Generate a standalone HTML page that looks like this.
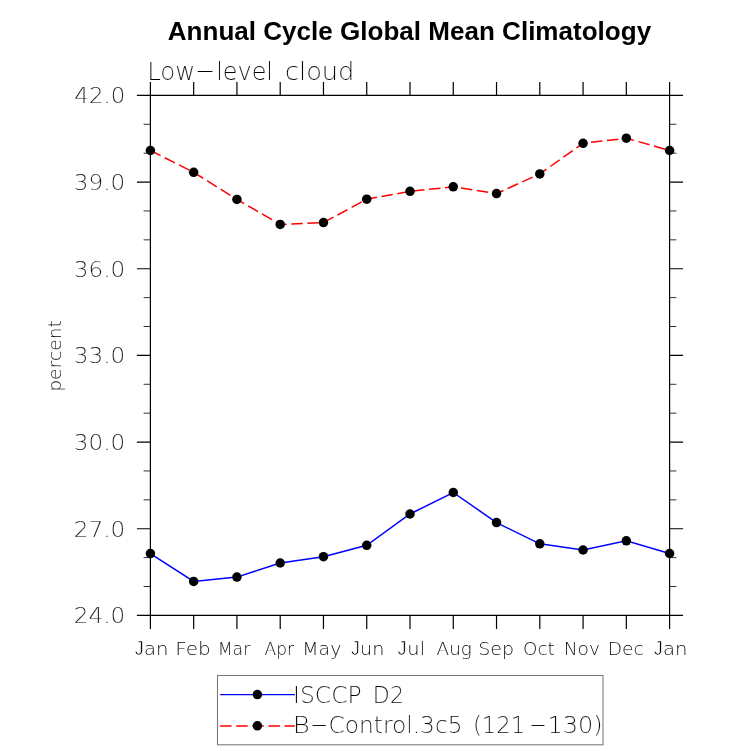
<!DOCTYPE html>
<html lang="en"><head><meta charset="utf-8"><title>Annual Cycle Global Mean Climatology</title>
<style>
html,body{margin:0;padding:0;background:#fff;}
body{width:733px;height:751px;overflow:hidden;}
svg{display:block;}
.h{font-family:"DejaVu Sans Light","DejaVu Sans","Liberation Sans",sans-serif;font-weight:200;fill:#000;stroke:#fff;}
.j{font-family:"Liberation Sans",Arial,Helvetica,sans-serif;font-weight:400;stroke-width:0.6px;}
.t{font-family:"Liberation Sans",Arial,Helvetica,sans-serif;font-weight:bold;fill:#000;}
</style></head><body>
<svg width="733" height="751" viewBox="0 0 733 751">
<rect x="0" y="0" width="733" height="751" fill="#fff"/>
<g stroke="#000" stroke-width="1.2" fill="none" stroke-linecap="butt">
<path d="M136.9 95.4H683.1M136.9 615.4H683.1M150.4 81.9V628.9M669.6 81.9V628.9"/>
<path d="M193.67 81.9V95.4M193.67 615.4V628.9M236.93 81.9V95.4M236.93 615.4V628.9M280.20 81.9V95.4M280.20 615.4V628.9M323.47 81.9V95.4M323.47 615.4V628.9M366.73 81.9V95.4M366.73 615.4V628.9M410.00 81.9V95.4M410.00 615.4V628.9M453.27 81.9V95.4M453.27 615.4V628.9M496.53 81.9V95.4M496.53 615.4V628.9M539.80 81.9V95.4M539.80 615.4V628.9M583.07 81.9V95.4M583.07 615.4V628.9M626.33 81.9V95.4M626.33 615.4V628.9"/>
<path d="M136.9 182.07H150.4M669.6 182.07H683.1M136.9 268.73H150.4M669.6 268.73H683.1M136.9 355.40H150.4M669.6 355.40H683.1M136.9 442.07H150.4M669.6 442.07H683.1M136.9 528.73H150.4M669.6 528.73H683.1"/>
</g>
<path d="M143.6 124.29H150.4M669.6 124.29H676.4M143.6 153.18H150.4M669.6 153.18H676.4M143.6 210.96H150.4M669.6 210.96H676.4M143.6 239.84H150.4M669.6 239.84H676.4M143.6 297.62H150.4M669.6 297.62H676.4M143.6 326.51H150.4M669.6 326.51H676.4M143.6 384.29H150.4M669.6 384.29H676.4M143.6 413.18H150.4M669.6 413.18H676.4M143.6 470.96H150.4M669.6 470.96H676.4M143.6 499.84H150.4M669.6 499.84H676.4M143.6 557.62H150.4M669.6 557.62H676.4M143.6 586.51H150.4M669.6 586.51H676.4" stroke="#000" stroke-width="0.8" fill="none"/>
<polyline points="150.40,150.5 193.67,172.3 236.93,199.4 280.20,224.45 323.47,222.6 366.73,199.2 410.00,191.35 453.27,186.8 496.53,193.6 539.80,173.9 583.07,143.3 626.33,138.2 669.60,150.5" fill="none" stroke="#f00" stroke-width="1.5" stroke-dasharray="11.47 4.59"/>
<polyline points="150.40,553.6 193.67,581.4 236.93,577.1 280.20,563.0 323.47,556.7 366.73,545.3 410.00,514.0 453.27,492.5 496.53,522.6 539.80,543.85 583.07,550.0 626.33,540.8 669.60,553.5" fill="none" stroke="#00f" stroke-width="1.5"/>
<g fill="#000">
<circle cx="150.40" cy="150.5" r="4.75"/>
<circle cx="193.67" cy="172.3" r="4.75"/>
<circle cx="236.93" cy="199.4" r="4.75"/>
<circle cx="280.20" cy="224.45" r="4.75"/>
<circle cx="323.47" cy="222.6" r="4.75"/>
<circle cx="366.73" cy="199.2" r="4.75"/>
<circle cx="410.00" cy="191.35" r="4.75"/>
<circle cx="453.27" cy="186.8" r="4.75"/>
<circle cx="496.53" cy="193.6" r="4.75"/>
<circle cx="539.80" cy="173.9" r="4.75"/>
<circle cx="583.07" cy="143.3" r="4.75"/>
<circle cx="626.33" cy="138.2" r="4.75"/>
<circle cx="669.60" cy="150.5" r="4.75"/>
<circle cx="150.40" cy="553.6" r="4.75"/>
<circle cx="193.67" cy="581.4" r="4.75"/>
<circle cx="236.93" cy="577.1" r="4.75"/>
<circle cx="280.20" cy="563.0" r="4.75"/>
<circle cx="323.47" cy="556.7" r="4.75"/>
<circle cx="366.73" cy="545.3" r="4.75"/>
<circle cx="410.00" cy="514.0" r="4.75"/>
<circle cx="453.27" cy="492.5" r="4.75"/>
<circle cx="496.53" cy="522.6" r="4.75"/>
<circle cx="539.80" cy="543.85" r="4.75"/>
<circle cx="583.07" cy="550.0" r="4.75"/>
<circle cx="626.33" cy="540.8" r="4.75"/>
<circle cx="669.60" cy="553.5" r="4.75"/>
</g>
<rect x="217.5" y="675.5" width="385.5" height="69.3" fill="#fff" stroke="#787878" stroke-width="1.05"/>
<path d="M220.2 694.65H294.9" stroke="#00f" stroke-width="1.4"/>
<path d="M220.1 725.95H294.9" stroke="#f00" stroke-width="1.5" stroke-dasharray="11.5 4.6"/>
<circle cx="257.4" cy="694.6" r="4.75"/><circle cx="257.4" cy="725.8" r="4.75"/>
<text class="t" font-size="26.5"><tspan x="167.76" y="39.70" textLength="483.40" lengthAdjust="spacingAndGlyphs">Annual Cycle Global Mean Climatology</tspan></text>
<text class="h" font-size="25" stroke-width="0.15"><tspan x="147.17" y="79.90" textLength="48.12" lengthAdjust="spacingAndGlyphs">Low</tspan><tspan x="194.73" y="78.00" textLength="20.70" lengthAdjust="spacingAndGlyphs">-</tspan><tspan x="216.17" y="79.90" textLength="56.85" lengthAdjust="spacingAndGlyphs">level</tspan> <tspan x="284.90" y="79.90" textLength="69.53" lengthAdjust="spacingAndGlyphs">cloud</tspan></text>
<text class="h" font-size="21.7" stroke-width="0.15"><tspan x="74.35" y="103.30" textLength="50.91" lengthAdjust="spacingAndGlyphs">42.0</tspan></text>
<text class="h" font-size="21.7" stroke-width="0.15"><tspan x="73.80" y="189.97" textLength="51.48" lengthAdjust="spacingAndGlyphs">39.0</tspan></text>
<text class="h" font-size="21.7" stroke-width="0.15"><tspan x="73.80" y="276.63" textLength="51.48" lengthAdjust="spacingAndGlyphs">36.0</tspan></text>
<text class="h" font-size="21.7" stroke-width="0.15"><tspan x="73.80" y="363.30" textLength="51.48" lengthAdjust="spacingAndGlyphs">33.0</tspan></text>
<text class="h" font-size="21.7" stroke-width="0.15"><tspan x="73.80" y="449.97" textLength="51.48" lengthAdjust="spacingAndGlyphs">30.0</tspan></text>
<text class="h" font-size="21.7" stroke-width="0.15"><tspan x="73.80" y="536.63" textLength="51.48" lengthAdjust="spacingAndGlyphs">27.0</tspan></text>
<text class="h" font-size="21.7" stroke-width="0.15"><tspan x="73.80" y="623.30" textLength="51.48" lengthAdjust="spacingAndGlyphs">24.0</tspan></text>
<text class="h" font-size="18.4" stroke-width="0.05"><tspan class="j" font-size="19.6" x="134.77" y="654.90" textLength="8.94" lengthAdjust="spacingAndGlyphs">J</tspan><tspan x="144.00" y="654.90" textLength="24.47" lengthAdjust="spacingAndGlyphs">an</tspan></text>
<text class="h" font-size="18.4" stroke-width="0.05"><tspan x="175.24" y="654.90" textLength="35.56" lengthAdjust="spacingAndGlyphs">Feb</tspan></text>
<text class="h" font-size="18.4" stroke-width="0.05"><tspan x="217.67" y="654.90" textLength="32.68" lengthAdjust="spacingAndGlyphs">Mar</tspan></text>
<text class="h" font-size="18.4" stroke-width="0.05"><tspan x="264.54" y="654.90" textLength="29.54" lengthAdjust="spacingAndGlyphs">Apr</tspan></text>
<text class="h" font-size="18.4" stroke-width="0.05"><tspan x="302.32" y="654.90" textLength="39.04" lengthAdjust="spacingAndGlyphs">May</tspan></text>
<text class="h" font-size="18.4" stroke-width="0.05"><tspan class="j" font-size="19.6" x="350.88" y="654.90" textLength="8.82" lengthAdjust="spacingAndGlyphs">J</tspan><tspan x="360.11" y="654.90" textLength="24.34" lengthAdjust="spacingAndGlyphs">un</tspan></text>
<text class="h" font-size="18.4" stroke-width="0.05"><tspan class="j" font-size="19.6" x="397.57" y="654.90" textLength="9.06" lengthAdjust="spacingAndGlyphs">J</tspan><tspan x="407.39" y="654.90" textLength="17.70" lengthAdjust="spacingAndGlyphs">ul</tspan></text>
<text class="h" font-size="18.4" stroke-width="0.05"><tspan x="436.60" y="654.90" textLength="35.23" lengthAdjust="spacingAndGlyphs">Aug</tspan></text>
<text class="h" font-size="18.4" stroke-width="0.05"><tspan x="478.25" y="654.90" textLength="35.82" lengthAdjust="spacingAndGlyphs">Sep</tspan></text>
<text class="h" font-size="18.4" stroke-width="0.05"><tspan x="523.11" y="654.90" textLength="31.70" lengthAdjust="spacingAndGlyphs">Oct</tspan></text>
<text class="h" font-size="18.4" stroke-width="0.05"><tspan x="563.73" y="654.90" textLength="36.24" lengthAdjust="spacingAndGlyphs">Nov</tspan></text>
<text class="h" font-size="18.4" stroke-width="0.05"><tspan x="607.72" y="654.90" textLength="36.09" lengthAdjust="spacingAndGlyphs">Dec</tspan></text>
<text class="h" font-size="18.4" stroke-width="0.05"><tspan class="j" font-size="19.6" x="653.67" y="654.90" textLength="8.94" lengthAdjust="spacingAndGlyphs">J</tspan><tspan x="662.90" y="654.90" textLength="24.47" lengthAdjust="spacingAndGlyphs">an</tspan></text>
<text class="h" font-size="16.8" transform="rotate(-90)" stroke-width="0.05"><tspan x="-391.83" y="61.20" textLength="71.81" lengthAdjust="spacingAndGlyphs">percent</tspan></text>
<text class="h" font-size="22.2" stroke-width="0.15"><tspan x="293.00" y="702.70" textLength="68.62" lengthAdjust="spacingAndGlyphs">ISCCP</tspan> <tspan x="372.86" y="702.70" textLength="31.14" lengthAdjust="spacingAndGlyphs">D2</tspan></text>
<text class="h" font-size="22.2" stroke-width="0.15"><tspan x="292.68" y="732.80" textLength="17.01" lengthAdjust="spacingAndGlyphs">B</tspan><tspan x="309.65" y="731.80" textLength="18.84" lengthAdjust="spacingAndGlyphs">-</tspan><tspan x="328.56" y="732.80" textLength="133.99" lengthAdjust="spacingAndGlyphs">Control.3c5</tspan> <tspan x="472.93" y="732.80" textLength="52.35" lengthAdjust="spacingAndGlyphs">(121</tspan><tspan x="528.80" y="731.80" textLength="18.44" lengthAdjust="spacingAndGlyphs">-</tspan><tspan x="547.49" y="732.80" textLength="55.26" lengthAdjust="spacingAndGlyphs">130)</tspan></text>
</svg>
</body></html>
